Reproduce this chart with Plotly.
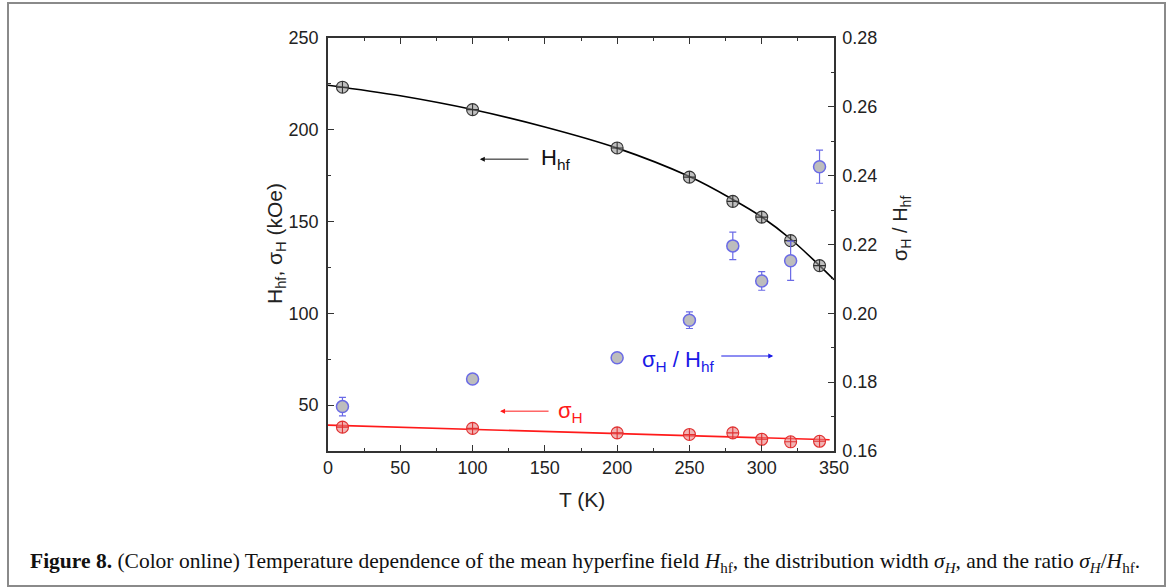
import plotly.graph_objects as go

# ---- data ----
T = [10, 100, 200, 250, 280, 300, 320, 340]
H_hf = [223.2, 211.0, 190.1, 174.2, 161.0, 152.4, 139.6, 126.0]
sigma_H = [38.0, 37.3, 34.9, 34.0, 34.9, 31.4, 30.0, 30.3]
ratio = [0.1729, 0.1809, 0.1871, 0.1980, 0.2196, 0.2094, 0.2153, 0.2426]
ratio_err = [0.0027, 0.0008, 0.0008, 0.0024, 0.0040, 0.0027, 0.0057, 0.0048]

T_fit_H = [0, 50, 100, 150, 200, 250, 280, 300, 320, 340, 350]
H_fit = [224.3, 218.5, 211.0, 201.5, 190.0, 174.5, 162.0, 152.5, 140.5, 126.0, 118.3]
T_fit_s = [0, 347]
s_fit = [39.1, 31.1]

x_ticks = [0, 50, 100, 150, 200, 250, 300, 350]
yl_ticks = [50, 100, 150, 200, 250]
yr_ticks = [0.16, 0.18, 0.20, 0.22, 0.24, 0.26, 0.28]

FONT = "Arial, Liberation Sans, sans-serif"
SERIF = "Liberation Serif, Times New Roman, serif"

fig = go.Figure()

# fits
fig.add_trace(go.Scatter(x=T_fit_H, y=H_fit, mode="lines", line=dict(color="black", width=1.6, shape="spline"),
                         showlegend=False))
fig.add_trace(go.Scatter(x=T_fit_s, y=s_fit, mode="lines", line=dict(color="#ff1a1a", width=1.6),
                         showlegend=False))

# data
fig.add_trace(go.Scatter(x=T, y=H_hf, mode="markers",
                         marker=dict(symbol="circle-cross", size=12, color="rgba(150,150,150,0.6)",
                                     line=dict(color="#333333", width=1.1)),
                         showlegend=False))
fig.add_trace(go.Scatter(x=T, y=sigma_H, mode="markers",
                         marker=dict(symbol="circle-cross", size=12, color="rgba(232,130,130,0.6)",
                                     line=dict(color="#e03030", width=1.1)),
                         showlegend=False))
fig.add_trace(go.Scatter(x=T, y=ratio, mode="markers", yaxis="y2",
                         error_y=dict(type="data", array=ratio_err, color="#6a6ae6", thickness=1.2, width=3.5),
                         marker=dict(symbol="circle", size=12, color="#bdbdbd",
                                     line=dict(color="#6a6ae6", width=1.5)),
                         showlegend=False))

axis_common = dict(showline=True, linecolor="#333333", linewidth=1.5, ticks="inside",
                   tickcolor="#333333", ticklen=6, tickwidth=1.2, showgrid=False, zeroline=False,
                   tickfont=dict(family=FONT, size=18, color="#222222"))

fig.update_layout(
    width=1170, height=588,
    margin=dict(l=328, r=336, t=38, b=137),
    paper_bgcolor="white", plot_bgcolor="white",
    xaxis=dict(range=[0, 350], tickvals=x_ticks, mirror="ticks",
               minor=dict(dtick=25, tick0=0, ticks="inside", ticklen=3, tickcolor="#333333"),
               **axis_common),
    yaxis=dict(range=[25, 250], tickvals=yl_ticks, ticklabelstandoff=4,
               minor=dict(dtick=25, tick0=0, ticks="inside", ticklen=3, tickcolor="#333333"),
               **axis_common),
    yaxis2=dict(range=[0.16, 0.28], tickvals=yr_ticks, tickformat=".2f", overlaying="y", side="right",
                ticklabelstandoff=3,
                minor=dict(dtick=0.01, tick0=0, ticks="inside", ticklen=3, tickcolor="#333333"),
                **axis_common),
)

def px2xp(px):
    return (px - 328) / 506.0

def py2yp(py):
    return (451 - py) / 413.0

ann = []
# axis titles
ann.append(dict(text="T (K)", x=px2xp(582), y=py2yp(499), xref="paper", yref="paper", showarrow=False,
                xanchor="center", yanchor="middle", font=dict(family=FONT, size=21, color="#222222")))
ann.append(dict(text="H<sub>hf</sub>, σ<sub>H</sub> (kOe)", x=px2xp(276), y=py2yp(244), xref="paper", yref="paper",
                xanchor="center", yanchor="middle",
                showarrow=False, textangle=-90, font=dict(family=FONT, size=21, color="#222222")))
ann.append(dict(text="σ<sub>H</sub> / H<sub>hf</sub>", x=px2xp(901), y=py2yp(229), xref="paper", yref="paper",
                xanchor="center", yanchor="middle",
                showarrow=False, textangle=-90, font=dict(family=FONT, size=20, color="#222222")))

# in-plot labels + arrows
ann.append(dict(text="H<sub>hf</sub>", x=146, y=184, xref="x", yref="y", xanchor="left", yanchor="middle",
                showarrow=False, font=dict(family=FONT, size=22, color="#111111")))
ann.append(dict(text="", x=105, y=184, ax=139.7, ay=184, xref="x", yref="y", axref="x", ayref="y",
                showarrow=True, arrowhead=2, arrowsize=1, arrowwidth=1, arrowcolor="#111111"))

ann.append(dict(text="σ<sub>H</sub>", x=158, y=46, xref="x", yref="y", xanchor="left", yanchor="middle",
                showarrow=False, font=dict(family=FONT, size=22, color="#ff1a1a")))
ann.append(dict(text="", x=119, y=46.7, ax=153.6, ay=46.7, xref="x", yref="y", axref="x", ayref="y",
                showarrow=True, arrowhead=2, arrowsize=1, arrowwidth=1, arrowcolor="#ff1a1a"))

ann.append(dict(text="σ<sub>H</sub> / H<sub>hf</sub>", x=216, y=0.1862, xref="x", yref="y2", xanchor="left",
                yanchor="middle", showarrow=False, font=dict(family=FONT, size=22, color="#1a1ae6")))
ann.append(dict(text="", x=308, y=0.1876, ax=271, ay=0.1876, xref="x", yref="y2", axref="x", ayref="y2",
                showarrow=True, arrowhead=2, arrowsize=1, arrowwidth=1, arrowcolor="#1a1ae6"))

# caption
ann.append(dict(text="<b>Figure 8.</b> (Color online) Temperature dependence of the mean hyperfine field "
                     "<i>H</i><sub>hf</sub>, the distribution width <i>σ<sub>H</sub></i>, and the ratio "
                     "<i>σ<sub>H</sub></i>/<i>H</i><sub>hf</sub>.",
                x=px2xp(28), y=py2yp(562), xref="paper", yref="paper", xanchor="left", yanchor="middle",
                showarrow=False, font=dict(family=SERIF, size=21.5, color="#111111")))
fig.update_layout(annotations=ann)

# figure border
fig.add_shape(type="rect", xref="paper", yref="paper", x0=px2xp(8), x1=px2xp(1165), y0=py2yp(586), y1=py2yp(3),
              line=dict(color="#8a8a8a", width=2), fillcolor="rgba(0,0,0,0)", layer="below")

fig.write_html("out.html")
